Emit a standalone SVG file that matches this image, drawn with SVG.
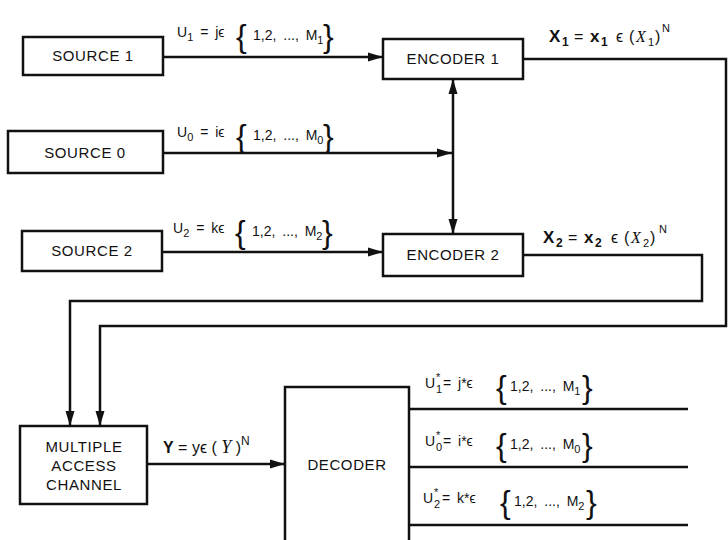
<svg xmlns="http://www.w3.org/2000/svg" width="728" height="540" viewBox="0 0 728 540">
<style>
.box{fill:#fff;stroke:#111;stroke-width:2.5}
.bt{font-family:"Liberation Sans",Arial,sans-serif;font-size:15px;letter-spacing:0.6px;fill:#111;text-anchor:middle}
.lbl{font-family:"Liberation Sans",Arial,sans-serif;font-size:14px;fill:#111;word-spacing:3px}
.sub{font-family:"Liberation Sans",Arial,sans-serif;font-size:11px;fill:#111}
.big{font-family:"Liberation Sans",Arial,sans-serif;font-size:16px;fill:#111}
.bx{font-weight:bold;font-size:17px}
.br{font-family:"Liberation Sans",Arial,sans-serif;font-size:32px;fill:#111}
.sc{font-family:"Liberation Serif",serif;font-style:italic}
.c{fill:none;stroke:#111;stroke-width:2.5}
</style>
<defs>
<marker id="ah" markerUnits="userSpaceOnUse" markerWidth="16" markerHeight="10" refX="15" refY="5" orient="auto-start-reverse"><path d="M0,0.5 L15,5 L0,9.5 z" fill="#111"/></marker>
</defs>
<g id="connectors">
<path class="c" d="M163,57 H383" marker-end="url(#ah)"/>
<path class="c" d="M163,153 H452" marker-end="url(#ah)"/>
<path class="c" d="M162,252 H383" marker-end="url(#ah)"/>
<path class="c" d="M453,79 V234" marker-start="url(#ah)" marker-end="url(#ah)"/>
<path class="c" d="M523,59 H726 V326 H100 V426" marker-end="url(#ah)"/>
<path class="c" d="M523,255 H702 V301 H70 V426" marker-end="url(#ah)"/>
<path class="c" d="M147,464 H285" marker-end="url(#ah)"/>
<path class="c" d="M409,409 H688"/>
<path class="c" d="M409,467 H688"/>
<path class="c" d="M409,525 H688"/>
</g>
<g id="source1"><rect class="box" x="23" y="37" width="140" height="38"/><text class="bt" x="93" y="61">SOURCE 1</text></g>
<g id="source0"><rect class="box" x="8" y="131" width="155" height="42"/><text class="bt" x="85" y="158">SOURCE 0</text></g>
<g id="source2"><rect class="box" x="22" y="231" width="140" height="40"/><text class="bt" x="92" y="256">SOURCE 2</text></g>
<g id="encoder1"><rect class="box" x="383" y="39" width="140" height="40"/><text class="bt" x="453" y="64">ENCODER 1</text></g>
<g id="encoder2"><rect class="box" x="383" y="234" width="140" height="42"/><text class="bt" x="453" y="260">ENCODER 2</text></g>
<g id="mac"><rect class="box" x="20" y="426" width="127" height="78"/><text class="bt" x="84" y="452">MULTIPLE</text><text class="bt" x="84" y="471">ACCESS</text><text class="bt" x="84" y="490">CHANNEL</text></g>
<g id="decoder"><rect class="box" x="285" y="387" width="124" height="170"/><text class="bt" x="347" y="470">DECODER</text></g>
<g id="labels">
<text class="lbl" x="177" y="37">U<tspan font-size="11" dy="4">1</tspan><tspan dy="-4"> = jϵ</tspan></text>
<text class="br" x="236" y="47">{</text>
<text class="lbl" x="253" y="40">1,2,  ..., M<tspan font-size="11" dy="4">1</tspan></text>
<text class="br" x="323" y="47">}</text>

<text class="lbl" x="177" y="137">U<tspan font-size="11" dy="4">0</tspan><tspan dy="-4"> = iϵ</tspan></text>
<text class="br" x="236" y="147">{</text>
<text class="lbl" x="253" y="140">1,2,  ..., M<tspan font-size="11" dy="4">0</tspan></text>
<text class="br" x="323" y="147">}</text>

<text class="lbl" x="173" y="233">U<tspan font-size="11" dy="4">2</tspan><tspan dy="-4"> = kϵ</tspan></text>
<text class="br" x="235" y="243">{</text>
<text class="lbl" x="252" y="236">1,2,  ..., M<tspan font-size="11" dy="4">2</tspan></text>
<text class="br" x="322" y="243">}</text>

<text class="big" y="42"><tspan class="bx" x="549">X</tspan><tspan font-size="12" font-weight="bold" x="562" dy="4">1</tspan><tspan x="574" dy="-4">=</tspan><tspan class="bx" x="590">x</tspan><tspan font-size="12" font-weight="bold" x="601" dy="4">1</tspan><tspan x="616" dy="-4">ϵ</tspan><tspan x="629">(</tspan><tspan class="sc" x="636">X</tspan><tspan font-size="11" x="648" dy="4">1</tspan><tspan x="655" dy="-4">)</tspan><tspan font-size="11" x="662" dy="-10">N</tspan></text>
<text class="big" y="243"><tspan class="bx" x="543">X</tspan><tspan font-size="12" font-weight="bold" x="556" dy="4">2</tspan><tspan x="568" dy="-4">=</tspan><tspan class="bx" x="584">x</tspan><tspan font-size="12" font-weight="bold" x="595" dy="4">2</tspan><tspan x="611" dy="-4">ϵ</tspan><tspan x="624">(</tspan><tspan class="sc" x="631">X</tspan><tspan font-size="11" x="643" dy="4">2</tspan><tspan x="650" dy="-4">)</tspan><tspan font-size="11" x="659" dy="-10">N</tspan></text>
<text class="big" x="163" y="453"><tspan font-weight="bold">Y</tspan> = yϵ ( <tspan class="sc" font-size="18">Y</tspan> )<tspan font-size="12" dy="-8">N</tspan></text>

<text class="lbl" x="425" y="388">U</text><text class="sub" x="436" y="393">1</text><text class="sub" x="436" y="381">*</text><text class="lbl" x="443" y="388">= j*ϵ</text>
<text class="br" x="496" y="398">{</text>
<text class="lbl" x="510" y="391">1,2,  ..., M<tspan font-size="11" dy="4">1</tspan></text>
<text class="br" x="582" y="398">}</text>

<text class="lbl" x="425" y="446">U</text><text class="sub" x="436" y="451">0</text><text class="sub" x="436" y="439">*</text><text class="lbl" x="443" y="446">= i*ϵ</text>
<text class="br" x="496" y="456">{</text>
<text class="lbl" x="510" y="449">1,2,  ..., M<tspan font-size="11" dy="4">0</tspan></text>
<text class="br" x="582" y="456">}</text>

<text class="lbl" x="423" y="503">U</text><text class="sub" x="434" y="508">2</text><text class="sub" x="434" y="496">*</text><text class="lbl" x="442" y="503">= k*ϵ</text>
<text class="br" x="500" y="513">{</text>
<text class="lbl" x="514" y="506">1,2,  ..., M<tspan font-size="11" dy="4">2</tspan></text>
<text class="br" x="586" y="513">}</text>
</g>
</svg>
